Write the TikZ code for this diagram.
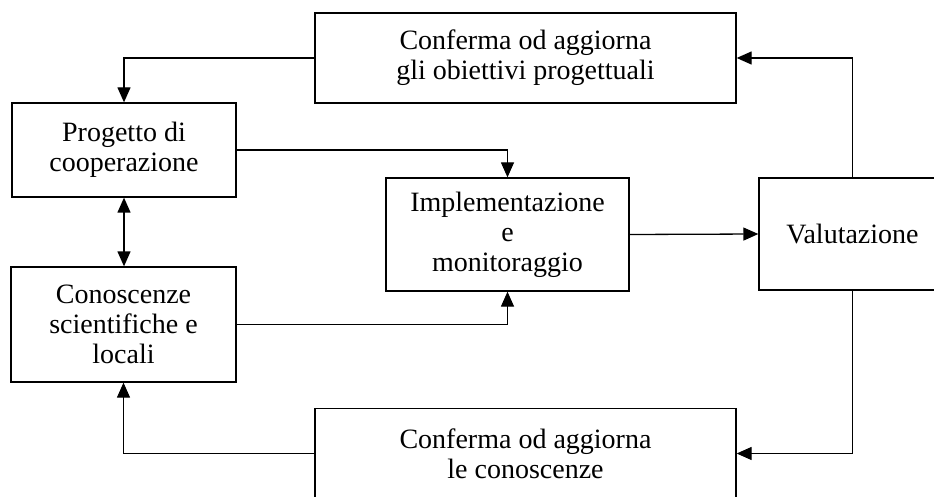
\documentclass[tikz,border=0pt]{standalone}
\usepackage{fontspec}
\setmainfont{Liberation Serif}
\usetikzlibrary{arrows.meta}
\begin{document}
\begin{tikzpicture}[x=1pt,y=-1pt,
  box/.style={draw,line width=1.3pt,rectangle,inner sep=0pt,align=center,
    font=\fontsize{28}{30}\selectfont},
  conn/.style={line width=1.3pt,-{Triangle[length=15pt,width=13pt]}},
  dconn/.style={line width=1.3pt,{Triangle[length=15pt,width=13pt]}-{Triangle[length=15pt,width=13pt]}}]
\useasboundingbox (0,0) rectangle (934,497);
\clip (0,0) rectangle (934,497);
\node[box,minimum width=421pt,minimum height=90pt] (top) at (525.5,58) {Conferma od aggiorna\\gli obiettivi progettuali};
\node[box,minimum width=224pt,minimum height=94pt] (prog) at (124,150) {Progetto di\\cooperazione};
\node[box,minimum width=243pt,minimum height=113pt] (impl) at (507.5,234.5) {Implementazione\\e\\monitoraggio};
\node[box,minimum width=225pt,minimum height=115pt] (cono) at (123.5,324.5) {Conoscenze\\scientifiche e\\locali};
\node[box,minimum width=187pt,minimum height=112pt] (valu) at (852.5,234) {Valutazione};
\node[box,minimum width=421pt,minimum height=90pt] (bot) at (525.5,453.5) {Conferma od aggiorna\\le conoscenze};
\draw[conn] (top.west) -| (prog.north);
\draw[conn] (prog.east) -| (impl.north);
\draw[conn] (cono.east) -| (impl.south);
\draw[dconn] (prog.south) -- (prog.south |- cono.north);
\draw[conn] (impl.east) -- (valu.west);
\draw[conn] (valu.north) |- (top.east);
\draw[conn] (valu.south) |- (bot.east);
\draw[conn] (bot.west) -| (cono.south);
\end{tikzpicture}
\end{document}
